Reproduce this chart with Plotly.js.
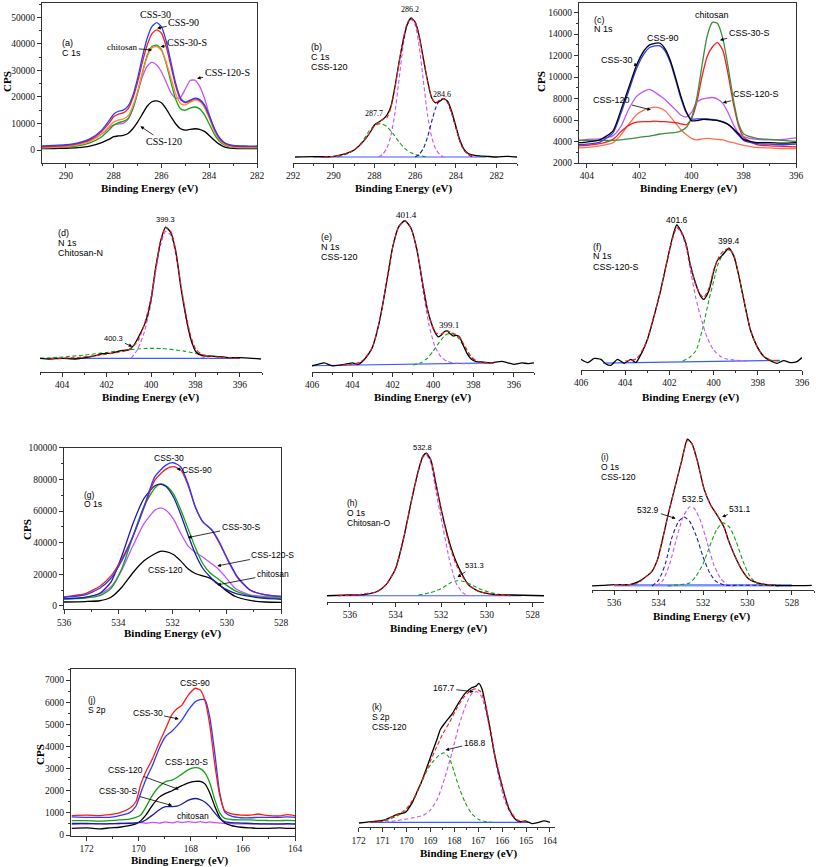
<!DOCTYPE html>
<html><head><meta charset="utf-8">
<script src="https://cdn.plot.ly/plotly-3.0.1.min.js"></script>
<style>html,body{margin:0;padding:0;background:#fff}#chart{width:816px;height:867px}</style>
</head><body><div id="chart"></div>
<script>
// ---------- (a) C 1s ----------
const aE = [291,290.5,290,289.5,289,288.5,288.2,288,287.8,287.6,287.4,287.2,287,286.8,286.6,286.4,286.2,286,285.8,285.6,285.4,285.2,285,284.8,284.6,284.4,284.2,284,283.8,283.6,283.4,283.2,283,282.5,282];
const aCSS30 = [1500,1700,2000,2700,4200,7500,11000,13500,14600,15000,16500,20500,27000,35000,42000,46500,48000,46500,41000,33000,25000,19500,18000,18800,19500,19000,17000,13000,8500,5000,3000,2100,1700,1500,1500];
const aCSS90 = [1200,1400,1700,2400,3800,7000,10000,12500,13500,14000,15500,19500,25500,33000,39500,43800,45300,44000,39000,31500,24000,19000,17800,18500,19300,18800,16800,12800,8200,4800,2800,1900,1500,1300,1300];
const aChitosan = [800,1000,1300,1900,3200,6000,8800,10500,11300,11700,12800,16500,22000,29000,35000,38500,39000,37500,33000,27000,21000,17500,17000,18000,18800,18300,16000,12000,7500,4300,2400,1500,1100,900,900];
const aCSS30S = [800,900,1100,1600,2700,5000,7500,9300,10300,10800,11800,15500,21500,29000,35500,39000,39500,37800,32500,25500,19000,15500,15000,15800,16200,15500,13300,9800,6200,3600,2100,1300,1000,800,800];
const aCSS120S = [1200,1400,1700,2300,3500,6000,8300,9500,9800,10000,11500,15500,21500,27500,31500,33000,32000,29500,25500,21500,19500,19800,23000,26200,26300,24000,19500,13500,8000,4500,2600,1800,1500,1300,1300];
const aCSS120 = [500,550,650,900,1500,2800,4000,5000,5300,5500,6200,8000,10500,13500,16500,18200,18500,17800,15500,12500,9800,8000,7500,7800,8000,7800,7000,5500,3800,2300,1300,800,600,500,500];

// ---------- (b) C 1s CSS-120 (normalised) ----------
const bE = [291.9,291,290.5,290,289.5,289,288.5,288.2,288,287.8,287.6,287.4,287.2,287,286.8,286.6,286.4,286.2,286,285.8,285.6,285.4,285.2,285,284.8,284.6,284.4,284.2,284,283.8,283.6,283.4,283,282.5,282,281.5,281];
const bRaw = [0.0,0.003,0.002,0.005,0.02,0.05,0.12,0.18,0.23,0.25,0.27,0.3,0.36,0.5,0.675,0.83,0.95,1.0,0.97,0.87,0.71,0.555,0.43,0.39,0.4,0.42,0.4,0.325,0.22,0.12,0.055,0.025,0.01,0.005,0.0,0.005,0.0];
const bFitE = [290.5,290,289.5,289,288.5,288.2,288,287.8,287.6,287.4,287.2,287,286.8,286.6,286.4,286.2,286,285.8,285.6,285.4,285.2,285,284.8,284.6,284.4,284.2,284,283.8,283.6,283.4,283];
const bFit = [0.0,0.005,0.02,0.05,0.12,0.18,0.225,0.25,0.27,0.28,0.35,0.49,0.67,0.84,0.96,1.0,0.97,0.86,0.7,0.55,0.43,0.39,0.41,0.42,0.39,0.31,0.21,0.11,0.05,0.02,0.0];
const bP1E = [287.8,287.6,287.4,287.2,287,286.8,286.6,286.4,286.2,286,285.8,285.6,285.4,285.2,285,284.8,284.6];
const bP1 = [0.0,0.02,0.06,0.15,0.31,0.55,0.79,0.95,0.99,0.95,0.79,0.55,0.31,0.15,0.06,0.02,0.0];
const bP2E = [289.8,289.4,289,288.6,288.3,288,287.7,287.4,287.1,286.8,286.5,286.2,285.8,285.4];
const bP2 = [0.0,0.02,0.05,0.11,0.18,0.225,0.24,0.22,0.17,0.11,0.06,0.03,0.01,0.0];
const bP3E = [286,285.8,285.6,285.4,285.2,285,284.8,284.6,284.4,284.2,284,283.8,283.6,283.4,283.2];
const bP3 = [0.0,0.02,0.06,0.14,0.25,0.35,0.41,0.42,0.39,0.31,0.21,0.11,0.05,0.02,0.0];
const bBaseE = [291,282.5];
const bBase = [0,0];

// ---------- (c) N 1s ----------
const cE = [404.3,404,403.5,403,402.7,402.4,402.1,401.8,401.6,401.4,401.2,401,400.8,400.6,400.4,400.2,400,399.8,399.6,399.4,399.2,399,398.8,398.6,398.4,398.2,398,397.5,397,396.5,396];
const cCSS90 = [3900,3950,4150,5000,6900,9000,11100,12500,13000,13150,13150,12600,11500,9900,8200,6800,5950,5950,6050,6050,6000,5950,5800,5600,5200,4700,4200,3900,3900,3850,3900];
const cCSS30 = [3700,3750,3950,4800,6600,8700,10800,12200,12750,12900,12900,12400,11300,9700,8000,6700,6100,6100,6100,6100,6050,6000,5850,5600,5150,4600,4100,3800,3750,3700,3750];
const cChitosan = [4100,4100,4100,4100,4150,4250,4350,4450,4500,4600,4700,4750,4800,4850,5000,5300,6200,8000,11000,13800,15100,15000,13600,11000,8000,5700,4700,4300,4200,4100,4000];
const cCSS30S = [3600,3650,3800,4200,4900,5500,5800,5850,5850,5900,5850,5850,5800,5750,5650,5550,6100,7600,10000,11900,12800,13200,12500,10300,7600,5500,4400,3700,3600,3550,3500];
const cCSS120 = [3400,3450,3600,3900,4600,5600,6500,6950,7100,7200,7100,6850,6300,5700,5100,4650,4300,4150,4250,4300,4250,4200,4150,4000,3900,3750,3650,3450,3400,3350,3350];
const cCSS120S = [4100,4200,4250,4550,5400,7000,8200,8700,8850,8600,8250,7900,7400,6950,6450,6300,6700,7650,7950,8050,8100,7950,7550,6700,5600,4800,4450,4200,4150,4200,4350];

// ---------- (d) N 1s Chitosan-N ----------
const dE = [405.05,404.6,404,403.4,402.95,402.5,402.2,401.75,401.3,401.0,400.77,400.54,400.24,400.0,399.8,399.56,399.34,399.11,398.89,398.66,398.44,398.21,397.98,397.68,397.08,396.48,396.03,395.43,395.05];
const dRaw = [0.0,-0.005,0.0,-0.005,0.005,0.02,0.035,0.04,0.06,0.065,0.1,0.17,0.28,0.45,0.68,0.9,1.0,0.96,0.82,0.55,0.33,0.15,0.05,0.02,0.015,0.005,0.005,0.0,-0.005];
const dFitE = [404.5,403.5,402.5,401.5,401,400.6,400.3,400,399.8,399.56,399.34,399.11,398.89,398.66,398.44,398.21,397.98,397.7,397,396.5,396];
const dFit = [0.0,0.005,0.02,0.045,0.065,0.13,0.26,0.46,0.68,0.9,1.0,0.97,0.83,0.57,0.35,0.17,0.07,0.03,0.01,0.005,0.0];
const dP1E = [400.9,400.6,400.3,400.0,399.8,399.56,399.34,399.11,398.89,398.66,398.44,398.21,397.98,397.7,397.4];
const dP1 = [0.0,0.07,0.2,0.42,0.65,0.87,0.97,0.94,0.8,0.54,0.32,0.14,0.05,0.01,0.0];
const dP2E = [405,404,403,402,401,400.3,399.5,398.5,397.5,396.5,396];
const dP2 = [0.0,0.01,0.025,0.045,0.065,0.075,0.075,0.055,0.02,0.005,0.0];
const dBaseE = [404.5,396];
const dBase = [0,0];

// ---------- (e) N 1s CSS-120 ----------
const eE = [406,405.7,405.4,405,404.6,404.2,404,403.7,403.5,403.2,403,402.7,402.5,402.2,402,401.7,401.4,401.1,400.8,400.5,400.3,400.1,399.9,399.75,399.6,399.45,399.3,399.15,399,398.85,398.7,398.5,398.3,398.1,397.9,397.5,397.2,396.9,396.6,396.3,396,395.6,395.3,395];
const eRaw = [0.0,0.01,0.02,0.0,0.005,0.015,0.02,0.01,0.03,0.08,0.13,0.28,0.42,0.66,0.82,0.96,1.0,0.95,0.8,0.55,0.4,0.3,0.23,0.2,0.21,0.235,0.24,0.22,0.205,0.21,0.2,0.14,0.08,0.045,0.03,0.025,0.02,0.025,0.03,0.02,0.01,0.02,0.015,0.02];
const eFitE = [404.5,404,403.5,403,402.7,402.5,402.2,402,401.7,401.4,401.1,400.8,400.5,400.2,399.9,399.6,399.3,399,398.7,398.4,398.1,397.8,397.4,397];
const eFit = [0.005,0.01,0.035,0.13,0.28,0.42,0.66,0.82,0.96,1.0,0.95,0.8,0.56,0.34,0.23,0.22,0.24,0.225,0.2,0.13,0.06,0.03,0.02,0.02];
const eP1E = [404,403.5,403,402.7,402.5,402.2,402,401.7,401.4,401.1,400.8,400.5,400.2,399.9,399.6,399.3,399,398.6,398.2];
const eP1 = [0.005,0.03,0.13,0.28,0.42,0.66,0.82,0.96,1.0,0.95,0.79,0.52,0.28,0.13,0.06,0.03,0.02,0.015,0.015];
const eP2E = [401,400.6,400.3,400,399.7,399.4,399.1,398.8,398.5,398.2,397.9,397.5,397];
const eP2 = [0.005,0.02,0.05,0.1,0.16,0.21,0.225,0.2,0.14,0.07,0.035,0.02,0.02];
const eBaseE = [406,397];
const eBase = [0.0,0.02];

// ---------- (f) N 1s CSS-120-S ----------
const fE = [406,405.7,405.4,405.1,404.87,404.65,404.35,404.05,403.74,403.52,403.3,403.0,402.7,402.4,402.1,401.86,401.67,401.49,401.26,401.04,400.81,400.59,400.44,400.21,399.98,399.83,399.6,399.31,399.08,398.86,398.63,398.33,398.03,397.73,397.43,397.13,396.83,396.53,396.23,396.0];
const fRaw = [0.017,-0.007,0.024,0.017,-0.017,-0.027,0.017,-0.012,0.017,-0.007,0.05,0.16,0.33,0.52,0.74,0.91,1.0,0.96,0.87,0.7,0.57,0.48,0.456,0.52,0.67,0.74,0.78,0.83,0.77,0.63,0.45,0.23,0.11,0.037,0.007,-0.012,0.007,-0.007,0.0,0.03];
const fFitE = [404,403.5,403.2,403.0,402.7,402.4,402.1,401.86,401.67,401.49,401.26,401.04,400.81,400.59,400.44,400.21,399.98,399.75,399.55,399.31,399.08,398.86,398.63,398.33,398.03,397.73,397.4,397.0];
const fFit = [0.005,0.02,0.09,0.16,0.33,0.52,0.74,0.9,0.98,0.96,0.87,0.7,0.56,0.49,0.47,0.54,0.68,0.77,0.81,0.83,0.78,0.63,0.45,0.23,0.11,0.04,0.01,0.005];
const fP1E = [403.7,403.3,403.0,402.7,402.4,402.1,401.86,401.67,401.49,401.26,401.04,400.81,400.59,400.3,400.0,399.7,399.4,399.0,398.5];
const fP1 = [0.005,0.05,0.16,0.33,0.52,0.74,0.9,0.98,0.95,0.85,0.66,0.47,0.33,0.18,0.085,0.04,0.02,0.01,0.005];
const fP2E = [401.4,401.1,400.8,400.5,400.2,399.98,399.83,399.6,399.31,399.08,398.86,398.63,398.33,398.03,397.73,397.4,397.0];
const fP2 = [0.005,0.03,0.08,0.24,0.46,0.6,0.7,0.78,0.82,0.77,0.63,0.45,0.23,0.11,0.04,0.01,0.005];
const fBaseE = [405,397];
const fBase = [-0.01,0.01];

// ---------- (g) O 1s ----------
const gE1 = [536.0,535.22,534.68,534.27,533.86,533.46,533.05,532.65,532.24,531.97,531.7,531.43,531.16,530.89,530.55,530.28,529.95,529.61,529.14,528.59,527.92];
const gCSS30 = [5500,7000,11200,17500,29000,43800,62700,81700,89000,90500,88000,77500,62700,53300,48000,40600,29000,18500,10100,7000,5900];
const gCSS90 = [5800,7800,12500,19000,30000,44000,62000,79500,86500,88000,86000,76500,62500,53500,48000,40000,28500,18000,10000,7200,6000];
const gE2 = [536.0,535.22,534.68,534.27,533.86,533.46,533.05,532.65,532.45,532.24,531.97,531.7,531.43,531.16,530.89,530.62,530.35,530.08,529.68,529.14,528.59,527.92];
const gChitosan = [4500,5500,8000,15000,32000,52000,68000,76000,77000,75500,69000,58000,45000,33000,24000,18500,14000,11000,8000,6000,4800,4200];
const gCSS30S = [4500,5000,6500,11000,24000,44000,63000,74500,77000,76000,71000,61000,49000,37000,27000,21000,17500,14000,9500,6500,5200,5000];
const gCSS120S = [4500,5500,7500,12000,23000,38000,52000,60500,62000,60500,55000,46000,38000,34000,31000,27500,24000,19000,11000,7000,6000,5500];
const gCSS120 = [2500,2800,3300,5500,12000,21000,28500,33000,34500,34300,32500,28500,23500,20500,19000,17500,14500,10500,6000,3500,2500,2200];

// ---------- (h) O 1s Chitosan-O ----------
const hE = [537,536,535.3,534.8,534.4,534,533.65,533.3,533,532.8,532.65,532.45,532.25,531.95,531.65,531.35,531.05,530.8,530.35,529.75,528.9,527.5];
const hRaw = [0,0.005,0.01,0.03,0.08,0.19,0.4,0.67,0.88,0.98,1.0,0.95,0.8,0.57,0.38,0.24,0.14,0.075,0.03,0.01,0.005,0.0];
const hFitE = [536.5,535.5,534.8,534.4,534,533.65,533.3,533,532.8,532.65,532.45,532.25,531.95,531.65,531.35,531.05,530.8,530.35,529.75,529];
const hFit = [0,0.01,0.03,0.08,0.19,0.4,0.67,0.88,0.98,1.0,0.95,0.8,0.56,0.36,0.22,0.13,0.075,0.03,0.01,0.0];
const hP1E = [536.5,535.5,534.8,534.4,534,533.65,533.3,533,532.8,532.65,532.45,532.25,531.95,531.65,531.35,531.05,530.8];
const hP1 = [0,0.01,0.03,0.08,0.19,0.4,0.67,0.87,0.97,0.99,0.93,0.75,0.5,0.26,0.09,0.02,0.0];
const hP2E = [533,532.5,532,531.6,531.3,531,530.6,530.2,529.8,529.3,529];
const hP2 = [0.005,0.02,0.05,0.09,0.105,0.1,0.07,0.04,0.02,0.005,0.0];
const hBaseE = [536.5,528.5];
const hBase = [0,0];

// ---------- (i) O 1s CSS-120 ----------
const iE = [537.05,536.5,536,535.3,534.9,534.6,534.3,534.05,533.85,533.55,533.25,532.95,532.7,532.5,532.25,531.95,531.65,531.35,531.05,530.85,530.55,530.25,529.95,529.5,528.75,527.85,527.1];
const iRaw = [0.0,0.005,0.01,0.01,0.03,0.06,0.1,0.18,0.3,0.5,0.68,0.86,1.0,0.97,0.85,0.66,0.55,0.48,0.4,0.31,0.2,0.11,0.05,0.02,0.005,0.003,0.005];
const iFitE = [536,535,534.6,534.3,534.05,533.85,533.55,533.25,532.95,532.7,532.5,532.25,531.95,531.65,531.35,531.05,530.85,530.55,530.25,529.95,529.5,528.75];
const iFit = [0.01,0.015,0.06,0.1,0.18,0.3,0.5,0.68,0.86,0.99,0.97,0.85,0.66,0.55,0.48,0.4,0.31,0.2,0.11,0.05,0.02,0.005];
const iP1E = [534.3,534,533.7,533.4,533.1,532.85,532.6,532.3,532,531.7,531.4,531,530.5,529.5,528.5];
const iP1 = [0.0,0.04,0.15,0.33,0.44,0.47,0.44,0.34,0.2,0.09,0.03,0.005,0.005,0.005,0.005];
const iP2E = [534.1,533.8,533.5,533.2,532.9,532.6,532.4,532.1,531.8,531.5,531.2,530.9,530.6];
const iP2 = [0.0,0.04,0.15,0.32,0.47,0.54,0.53,0.44,0.29,0.14,0.05,0.01,0.0];
const iP3E = [533.6,533,532.6,532.3,532,531.7,531.4,531.1,530.8,530.5,530.2,529.9,529.6,529.2,528.5];
const iP3 = [0.0,0.01,0.02,0.07,0.15,0.27,0.38,0.43,0.4,0.3,0.17,0.07,0.02,0.005,0.0];
const iBaseE = [536,528];
const iBase = [0.005,0.005];

// ---------- (j) S 2p ----------
const jE = [172.57,172.0,171.49,171.12,170.74,170.36,170.11,169.92,169.73,169.47,169.22,168.97,168.72,168.53,168.34,168.09,167.83,167.64,167.45,167.27,167.08,166.89,166.7,166.44,166.07,165.69,165.43,165.18,164.98,164.6,164.3,164.0];
const jCSS90 = [880,900,880,920,1000,1200,1500,2300,2850,3450,4150,4800,5450,5700,5870,6330,6630,6550,6050,4950,3200,1800,1100,950,900,900,950,900,880,860,920,870];
const jCSS30 = [820,800,800,800,880,1000,1300,1900,2500,3150,3900,4450,4700,4930,5200,5650,6020,6120,6100,5300,3700,1900,1050,850,780,780,800,800,800,800,820,800];
const jCSS120S = [650,650,630,650,680,720,800,900,1250,1800,2180,2410,2480,2600,2750,2950,3040,3000,2800,2350,1600,1000,750,700,680,680,660,660,650,650,660,650];
const jCSS120 = [300,320,280,320,350,420,500,650,900,1350,1700,1880,2000,2120,2230,2360,2420,2420,2300,1900,1300,800,550,420,350,320,300,300,300,320,300,300];
const jCSS30S = [520,520,500,510,520,530,550,580,680,900,1130,1280,1280,1300,1400,1580,1650,1600,1480,1280,1000,750,600,560,540,520,510,500,500,500,510,500];
const jChitosan = [480,500,510,500,520,520,540,560,530,570,540,590,550,600,560,600,570,600,560,590,560,540,520,510,500,500,490,500,490,480,490,480];

// ---------- (k) S 2p CSS-120 ----------
const kE = [172.0,171.72,171.44,171.16,170.88,170.61,170.33,170.05,169.77,169.56,169.35,169.14,168.93,168.72,168.58,168.37,168.09,167.82,167.54,167.26,167.09,166.98,166.84,166.7,166.49,166.28,166.0,165.72,165.44,165.24,165.03,164.75,164.47,164.25,164.0];
const kRaw = [-0.005,0.0,0.005,0.01,0.02,0.04,0.06,0.07,0.14,0.22,0.3,0.4,0.5,0.6,0.67,0.72,0.78,0.86,0.93,0.97,0.98,1.0,0.96,0.85,0.66,0.46,0.26,0.1,0.02,0.005,0.01,-0.01,0.0,0.01,0.0];
const kFitE = [171.5,171.0,170.6,170.3,170.0,169.7,169.4,169.1,168.8,168.5,168.2,167.9,167.6,167.3,167.1,166.9,166.7,166.5,166.3,166.0,165.7,165.4,165.0];
const kFit = [0.0,0.01,0.04,0.06,0.1,0.17,0.28,0.4,0.52,0.63,0.72,0.82,0.9,0.95,0.96,0.94,0.85,0.68,0.48,0.27,0.1,0.02,0.0];
const kP1E = [170.9,170.3,169.8,169.3,169.0,168.7,168.4,168.1,167.8,167.5,167.25,167.05,166.85,166.6,166.4,166.15,165.9,165.6,165.3,165.0];
const kP1 = [0.0,0.015,0.03,0.05,0.09,0.17,0.32,0.5,0.7,0.85,0.93,0.94,0.9,0.74,0.55,0.33,0.16,0.05,0.01,0.0];
const kP2E = [171.44,170.88,170.47,170.05,169.77,169.49,169.21,168.93,168.65,168.44,168.23,168.02,167.82,167.54,167.26,166.98,166.7,166.42];
const kP2 = [0.0,0.01,0.04,0.08,0.14,0.24,0.35,0.43,0.48,0.5,0.47,0.37,0.26,0.14,0.06,0.02,0.005,0.0];
const kBaseE = [171.5,164.8];
const kBase = [0,0];

// ---------- styling ----------
const SERIF = "'Liberation Serif', 'DejaVu Serif', serif";
const SANS = "'Liberation Sans', 'DejaVu Sans', sans-serif";
const C = {black:'#000000', red:'#ff1a1a', blue:'#2b3bff', green:'#12a312', violet:'#c054ff', orange:'#ff8a3a',
           navy:'#1c1ca0', olive:'#3d8f3d', salmon:'#ff7050', base:'#3a5cff'};
const W = 816, H = 867;

function ax(n){ return n===1 ? {x:'x', y:'y', xk:'xaxis', yk:'yaxis'} : {x:'x'+n, y:'y'+n, xk:'xaxis'+n, yk:'yaxis'+n}; }
const traces = [];
function line(n, x, y, color, o){
  o = o || {};
  const a = ax(n);
  traces.push({type:'scatter', mode:'lines', x:x, y:y, xaxis:a.x, yaxis:a.y, hoverinfo:'skip', showlegend:false,
    line:{color:color, width:o.w||1.3, dash:o.dash||'solid', shape:'spline', smoothing:0.6}});
}
const DASH = '4px,2.5px';
function dash(n, x, y, color){ line(n, x, y, color, {dash:DASH, w:1.1}); }

// (a)
line(1, aE, aCSS120, C.black);
line(1, aE, aCSS120S, C.violet);
line(1, aE, aCSS30S, C.green);
line(1, aE, aChitosan, C.orange);
line(1, aE, aCSS90, C.red);
line(1, aE, aCSS30, C.blue);
// (b)
line(2, bBaseE, bBase, C.base, {w:1.2});
dash(2, bP2E, bP2, C.green); dash(2, bP1E, bP1, C.violet); dash(2, bP3E, bP3, C.navy);
line(2, bE, bRaw, C.black, {w:1.3}); dash(2, bFitE, bFit, C.red);
// (c)
line(3, cE, cCSS120, C.salmon);
line(3, cE, cCSS30S, C.red);
line(3, cE, cCSS120S, C.violet);
line(3, cE, cChitosan, C.olive);
line(3, cE, cCSS30, C.blue);
line(3, cE, cCSS90, C.black);
// (d)
line(4, dBaseE, dBase, C.base, {w:1.2});
dash(4, dP2E, dP2, C.green); dash(4, dP1E, dP1, C.violet);
line(4, dE, dRaw, C.black); dash(4, dFitE, dFit, C.red);
// (e)
line(5, eBaseE, eBase, C.base, {w:1.2});
dash(5, eP2E, eP2, C.green); dash(5, eP1E, eP1, C.violet);
line(5, eE, eRaw, C.black); dash(5, eFitE, eFit, C.red);
// (f)
line(6, fBaseE, fBase, C.base, {w:1.2});
dash(6, fP2E, fP2, C.green); dash(6, fP1E, fP1, C.violet);
line(6, fE, fRaw, C.black); dash(6, fFitE, fFit, C.red);
// (g)
line(7, gE2, gCSS120, C.black);
line(7, gE2, gCSS120S, C.violet);
line(7, gE2, gCSS30S, C.green);
line(7, gE2, gChitosan, C.navy);
line(7, gE1, gCSS90, C.red);
line(7, gE1, gCSS30, C.blue);
// (h)
line(8, hBaseE, hBase, C.base, {w:1.2});
dash(8, hP2E, hP2, C.green); dash(8, hP1E, hP1, C.violet);
line(8, hE, hRaw, C.black); dash(8, hFitE, hFit, C.red);
// (i)
line(9, iBaseE, iBase, '#7f94ff', {w:2.5});
dash(9, iP3E, iP3, C.green); dash(9, iP2E, iP2, C.violet); dash(9, iP1E, iP1, C.navy);
line(9, iE, iRaw, C.black); dash(9, iFitE, iFit, C.red);
// (j)
line(10, jE, jChitosan, C.violet);
line(10, jE, jCSS120, C.black);
line(10, jE, jCSS30S, C.navy);
line(10, jE, jCSS120S, C.green);
line(10, jE, jCSS30, C.blue);
line(10, jE, jCSS90, C.red);
// (k)
line(11, kBaseE, kBase, C.base, {w:1.2});
dash(11, kP2E, kP2, C.green); dash(11, kP1E, kP1, C.violet);
line(11, kE, kRaw, C.black); dash(11, kFitE, kFit, C.red);

// ---------- axes ----------
const layout = {width:W, height:H, margin:{l:0,r:0,t:0,b:0}, paper_bgcolor:'#ffffff', plot_bgcolor:'rgba(0,0,0,0)',
  showlegend:false, font:{family:SERIF}, annotations:[]};
function dx(a,b){ return [a/W, b/W]; }
function dy(top,bot){ return [1-bot/H, 1-top/H]; }
const tickFont = {family:SERIF, size:9.5, color:'#111'};
function xAxis(n, dom, rng, dt, mdt, mirror){
  return {domain:dom, range:rng, anchor:ax(n).y, showline:true, mirror:mirror, linecolor:'#333', linewidth:1,
    ticks:'outside', ticklen:4, tickwidth:1, tickcolor:'#333', dtick:dt, tick0:0, showgrid:false, zeroline:false,
    tickfont:tickFont, minor:{ticks:'outside', ticklen:2, dtick:mdt, tick0:0, tickcolor:'#333', showgrid:false}};
}
function yBox(n, dom, rng, dt, mdt){
  return {domain:dom, range:rng, anchor:ax(n).x, showline:true, mirror:true, linecolor:'#333', linewidth:1,
    ticks:'outside', ticklen:4, tickwidth:1, tickcolor:'#333', dtick:dt, tick0:0, showgrid:false, zeroline:false,
    tickformat:'d', tickfont:tickFont, minor:{ticks:'outside', ticklen:2, dtick:mdt, tick0:0, tickcolor:'#333', showgrid:false}};
}
function yHidden(n, dom, rng){ return {domain:dom, range:rng, anchor:ax(n).x, visible:false, showgrid:false, zeroline:false}; }
function set(n, xa, ya){ layout[ax(n).xk] = xa; layout[ax(n).yk] = ya; }

set(1, xAxis(1, dx(42,257), [291,282], 2, 1, true), yBox(1, dy(3,163), [-4900,55400], 10000, 5000));
set(2, xAxis(2, dx(293,517), [292,281], 2, 1, false), yHidden(2, dy(3,163), [-0.043,1.108]));
set(3, xAxis(3, dx(579,796), [404.3,396], 2, 1, true), yBox(3, dy(3,163), [2000,16900], 2000, 1000));
set(4, xAxis(4, dx(40,262), [405,395], 2, 1, false), yHidden(4, dy(200,371.7), [-0.102,1.208]));
set(5, xAxis(5, dx(312,534), [406,395], 2, 1, false), yHidden(5, dy(200,371.7), [-0.041,1.143]));
set(6, xAxis(6, dx(581,802), [406,396], 2, 1, false), yHidden(6, dy(200,370), [-0.061,1.183]));
set(7, xAxis(7, dx(64,281), [536,528], 2, 1, true), yBox(7, dy(447.7,609.3), [-2100,100000], 20000, 10000));
set(8, xAxis(8, dx(327,544), [537,527.5], 2, 1, false), yHidden(8, dy(440,602), [-0.044,1.093]));
set(9, xAxis(9, dx(592,814), [537,527], 2, 1, false), yHidden(9, dy(425,590), [-0.027,1.097]));
set(10, xAxis(10, dx(71,295), [172.6,164], 2, 1, true), yBox(10, dy(669,836), [-45,7500], 1000, 500));
set(11, xAxis(11, dx(358.7,554.7), [172,163.8], 1, 0.5, false), yHidden(11, dy(665,827.3), [-0.036,1.132]));

// ---------- text ----------
const A = layout.annotations;
function lab(n, x, y, text, size, family, o){
  const a = ax(n);
  A.push(Object.assign({xref:a.x, yref:a.y, x:x, y:y, text:text, showarrow:false,
    font:{family:family||SANS, size:size||9, color:'#000'}}, o||{}));
}
function left(n, x, y, text, size){ lab(n, x, y, text, size||9, SANS, {xanchor:'left'}); }
function arr(n, tx, ty, lx, ly, text, size, family){
  const a = ax(n);
  A.push({xref:a.x, yref:a.y, x:tx, y:ty, ax:lx, ay:ly, axref:a.x, ayref:a.y, text:text, showarrow:true,
    arrowhead:2, arrowsize:0.9, arrowwidth:0.8, arrowcolor:'#000', standoff:0,
    font:{family:family||SANS, size:size||9, color:'#000'}});
}
function paper(px, py, text, o){
  A.push(Object.assign({xref:'paper', yref:'paper', x:px/W, y:1-py/H, text:text, showarrow:false,
    xanchor:'center', yanchor:'middle', font:{family:SERIF, size:11, color:'#000'}}, o||{}));
}
// axis titles
[[150,188],[404,188],[689,188],[151,397],[423,397],[691,397],[173,633],[439,628],[702,616],[180,860],[469,853]]
  .forEach(p => paper(p[0], p[1], '<b>Binding Energy (eV)</b>'));
[[7,82],[541,82],[27,530],[40,755]].forEach(p => paper(p[0], p[1], '<b>CPS</b>', {textangle:-90}));

// (a)
lab(1, 286.25, 50880, 'CSS-30', 10, SERIF);
arr(1, 286.18, 45840, 285.07, 47980, 'CSS-90', 10, SERIF);
arr(1, 286.04, 38920, 284.93, 40430, 'CSS-30-S', 10, SERIF);
arr(1, 286.39, 37660, 287.64, 38660, 'chitosan', 9, SERIF);
arr(1, 284.51, 26950, 283.25, 29090, 'CSS-120-S', 10, SERIF);
arr(1, 286.88, 8940, 285.9, 3020, 'CSS-120', 10, SERIF);
left(1, 290.25, 40180, '(a)'); left(1, 290.25, 36650, 'C 1s');
// (b)
lab(2, 286.26, 1.06, '286.2', 8, SERIF);
lab(2, 288.02, 0.313, '287.7', 8, SERIF);
lab(2, 284.69, 0.453, '284.6', 8, SERIF);
left(2, 291.21, 0.795, '(b)'); left(2, 291.21, 0.723, 'C 1s'); left(2, 291.21, 0.651, 'CSS-120');
// (c)
lab(3, 399.23, 15760, 'chitosan', 9);
arr(3, 398.91, 13440, 397.79, 14150, 'CSS-30-S', 9);
lab(3, 401.1, 13650, 'CSS-90', 9);
arr(3, 402.05, 11100, 402.83, 11580, 'CSS-30', 9);
arr(3, 401.55, 6950, 403.04, 7870, 'CSS-120', 9);
arr(3, 398.8, 7600, 397.54, 8400, 'CSS-120-S', 9);
left(3, 403.79, 15300, '(c)'); left(3, 403.79, 14450, 'N 1s');
// (d)
lab(4, 399.34, 1.056, '399.3', 7.5);
arr(4, 400.84, 0.089, 401.67, 0.153, '400.3', 7.5);
left(4, 404.27, 0.954, '(d)'); left(4, 404.27, 0.878, 'N 1s'); left(4, 404.27, 0.80, 'Chitosan-N');
// (e)
lab(5, 401.3, 1.039, '401.4', 9, SERIF);
lab(5, 399.21, 0.28, '399.1', 9, SERIF);
left(5, 405.67, 0.89, '(e)'); left(5, 405.67, 0.82, 'N 1s'); left(5, 405.67, 0.75, 'CSS-120');
// (f)
lab(6, 401.67, 1.037, '401.6', 8.5);
lab(6, 399.31, 0.885, '399.4', 8.5);
left(6, 405.55, 0.84, '(f)'); left(6, 405.55, 0.77, 'N 1s'); left(6, 405.55, 0.695, 'CSS-120-S');
// (g)
lab(7, 532.14, 93700, 'CSS-30', 8.5);
arr(7, 531.85, 86500, 531.1, 85900, 'CSS-90', 8.5);
arr(7, 531.43, 43200, 529.47, 50100, 'CSS-30-S', 8.5);
arr(7, 530.35, 25300, 528.3, 32200, 'CSS-120-S', 8.5);
arr(7, 530.35, 13300, 528.3, 20000, 'chitosan', 8.5);
lab(7, 532.24, 22700, 'CSS-120', 8.5);
left(7, 535.32, 70100, '(g)', 8.5); left(7, 535.32, 64400, 'O 1s', 8.5);
// (h)
lab(8, 532.84, 1.04, '532.8', 7.5);
arr(8, 531.29, 0.13, 530.56, 0.21, '531.3', 7.5);
left(8, 536.22, 0.65, '(h)', 8.5); left(8, 536.22, 0.58, 'O 1s', 8.5); left(8, 536.22, 0.51, 'Chitosan-O', 8.5);
// (i)
arr(9, 533.23, 0.46, 534.46, 0.52, '532.9', 8.5);
lab(9, 532.46, 0.59, '532.5', 8.5);
arr(9, 531.14, 0.47, 530.32, 0.525, '531.1', 8.5);
left(9, 536.67, 0.88, '(i)', 8.5); left(9, 536.67, 0.81, 'O 1s', 8.5); left(9, 536.67, 0.74, 'CSS-120', 8.5);
// (j)
lab(10, 167.83, 6880, 'CSS-90', 8.5);
arr(10, 168.46, 5240, 169.66, 5530, 'CSS-30', 8.5);
lab(10, 168.15, 3310, 'CSS-120-S', 8.5);
arr(10, 168.46, 2060, 170.5, 2940, 'CSS-120', 8.5);
arr(10, 168.72, 1330, 170.76, 2000, 'CSS-30-S', 8.5);
lab(10, 167.9, 870, 'chitosan', 8.5);
left(10, 172.03, 6100, '(j)', 8.5); left(10, 172.03, 5650, 'S 2p', 8.5);
// (k)
arr(11, 167.19, 0.94, 168.44, 0.964, '167.7', 8.5);
arr(11, 168.37, 0.52, 167.15, 0.57, '168.8', 8.5);
left(11, 171.51, 0.83, '(k)', 8.5); left(11, 171.51, 0.755, 'S 2p', 8.5); left(11, 171.51, 0.683, 'CSS-120', 8.5);

Plotly.newPlot('chart', traces, layout, {staticPlot:true, displayModeBar:false});
</script>
</body></html>
